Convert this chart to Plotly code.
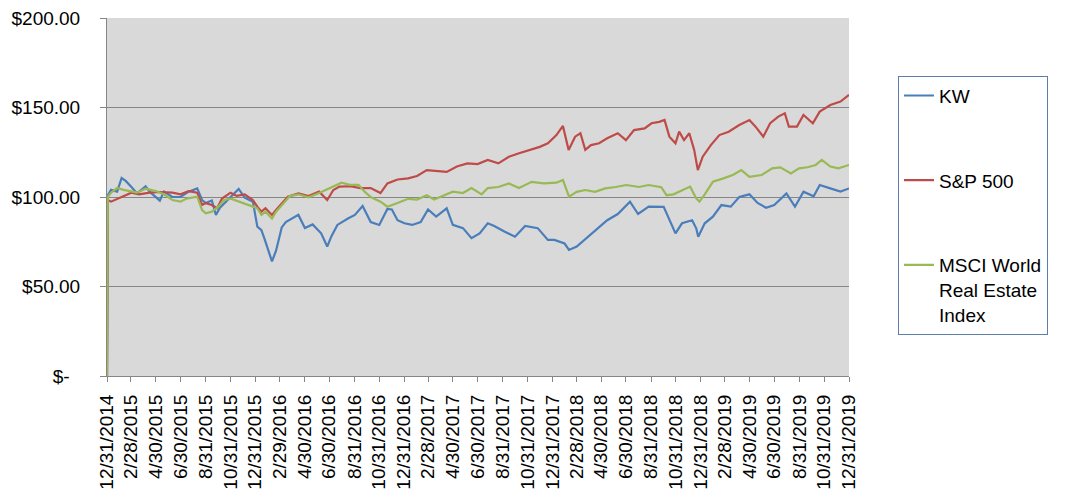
import plotly.graph_objects as go

# ---------------- data ----------------
kw_dates = ["2014-12-31","2015-01-02","2015-01-10","2015-01-25","2015-02-05","2015-02-15","2015-02-28","2015-03-15",
            "2015-04-05","2015-04-15","2015-05-10","2015-05-20","2015-06-10","2015-06-30","2015-07-20","2015-08-10",
            "2015-08-22","2015-08-31","2015-09-15","2015-09-25","2015-10-05","2015-10-31","2015-11-20","2015-12-05",
            "2015-12-25","2016-01-05","2016-01-15","2016-01-22","2016-02-01","2016-02-10","2016-02-20","2016-03-05",
            "2016-03-15","2016-03-31","2016-04-15","2016-05-01","2016-05-20","2016-06-10","2016-06-25","2016-07-05",
            "2016-07-20","2016-08-15","2016-09-01","2016-09-20","2016-10-10","2016-10-31","2016-11-20","2016-12-01",
            "2016-12-15","2017-01-01","2017-01-20","2017-02-10","2017-02-28","2017-03-20","2017-04-15","2017-04-30",
            "2017-05-25","2017-06-15","2017-07-05","2017-07-25","2017-08-10","2017-09-05","2017-09-30","2017-10-25",
            "2017-11-25","2017-12-20","2018-01-05","2018-01-30","2018-02-10","2018-03-01","2018-03-25","2018-04-20",
            "2018-05-15","2018-06-10","2018-07-10","2018-07-30","2018-08-25","2018-10-01","2018-10-15","2018-10-30",
            "2018-11-15","2018-12-10","2018-12-20","2018-12-25","2019-01-10","2019-01-30","2019-02-20","2019-03-15",
            "2019-04-05","2019-04-30","2019-05-20","2019-06-10","2019-06-30","2019-07-30","2019-08-20","2019-09-10",
            "2019-10-05","2019-10-20","2019-11-15","2019-12-10","2019-12-31"]
kw_values = [0,101,104,103,110.6,109,105.8,102,
             106,103,98,103,100,100,103,104.8,
             98.3,96.6,98,90,94,99.7,104.5,99.7,
             97.4,83.4,81.5,77,70,64,70,83,
             86,88,90,82.7,84.7,79.7,72.3,78,
             84.4,88,90,95,86,84.4,93.3,93,
             87,85.3,84.4,86,93,89,93.7,84.4,
             82.6,77,79.7,85.3,83.8,80.6,77.8,83.8,
             82.6,76,76,74,70.4,72.3,77,82.5,
             87,90.5,97.4,90.5,94.6,94.5,87,79.7,
             85.3,87,82.5,77.8,85.3,89,95.5,94.6,
             100,101.5,96.7,94,95.5,102,94.6,103,
             100.4,106.7,104.8,103,104.8]

sp_dates = ["2014-12-31","2015-01-02","2015-01-10","2015-01-25","2015-02-10","2015-03-01","2015-03-20","2015-04-15",
            "2015-05-10","2015-06-10","2015-06-30","2015-07-20","2015-08-10","2015-08-22","2015-08-31","2015-09-15",
            "2015-09-28","2015-10-10","2015-10-31","2015-11-15","2015-12-05","2015-12-25","2016-01-05","2016-01-15",
            "2016-01-25","2016-02-10","2016-02-20","2016-03-05","2016-03-20","2016-04-15","2016-05-10","2016-06-05",
            "2016-06-25","2016-07-10","2016-07-25","2016-08-20","2016-09-15","2016-10-10","2016-11-03","2016-11-20",
            "2016-12-15","2017-01-10","2017-02-01","2017-02-25","2017-03-20","2017-04-15","2017-05-10","2017-06-05",
            "2017-06-30","2017-07-25","2017-08-20","2017-09-15","2017-10-10","2017-11-05","2017-11-30","2017-12-20",
            "2018-01-10","2018-01-26","2018-02-05","2018-02-09","2018-02-25","2018-03-10","2018-03-22","2018-04-05",
            "2018-04-25","2018-05-15","2018-06-10","2018-06-30","2018-07-20","2018-08-15","2018-09-01","2018-09-20",
            "2018-10-03","2018-10-15","2018-10-30","2018-11-08","2018-11-20","2018-12-03","2018-12-15","2018-12-24",
            "2019-01-05","2019-01-25","2019-02-15","2019-03-10","2019-04-05","2019-04-30","2019-05-15","2019-06-03",
            "2019-06-20","2019-07-10","2019-07-26","2019-08-05","2019-08-25","2019-09-10","2019-10-03","2019-10-20",
            "2019-11-15","2019-12-10","2019-12-31"]
sp_values = [0,98.3,97.4,99,100.5,102.4,101.5,102.4,
             102.8,102.4,101.5,103.3,102.4,95.5,96.6,95.5,
             93.7,99.1,102.4,100.6,101.5,98.3,94.6,91.8,
             93.7,90,92.7,96.6,100.2,102,100.5,103,
             98.3,103.9,105.8,106,105,105,102.2,107.6,
             109.8,110.4,111.7,115,114.7,114,117,118.8,
             118.4,120.7,118.8,122.5,124.4,126.3,128,130,
             134.6,139.7,130,126.3,133.7,135.6,126.3,129,
             130,132.8,135.6,131.8,137.4,138.3,141.2,142,
             143,133.7,130,136.5,131.8,135.6,126.3,115,
             122.5,129,134.6,136.5,140.2,143,139.3,133.7,
             141.2,144.9,146.8,139.3,139.3,145.8,141.2,147.7,
             151.4,153.3,157]

msci_dates = ["2014-12-31","2015-01-02","2015-01-10","2015-01-25","2015-02-10","2015-03-01","2015-03-15","2015-04-05",
              "2015-04-30","2015-05-20","2015-06-10","2015-06-30","2015-07-15","2015-08-10","2015-08-22","2015-08-31",
              "2015-09-15","2015-10-01","2015-10-15","2015-11-01","2015-11-20","2015-12-15","2016-01-05","2016-01-15",
              "2016-01-25","2016-02-10","2016-02-20","2016-03-10","2016-03-25","2016-04-15","2016-05-10","2016-06-05",
              "2016-07-01","2016-07-30","2016-08-20","2016-09-10","2016-09-25","2016-10-10","2016-11-03","2016-11-20",
              "2016-12-15","2017-01-10","2017-02-01","2017-02-25","2017-03-15","2017-04-05","2017-04-30","2017-05-25",
              "2017-06-15","2017-07-10","2017-07-25","2017-08-20","2017-09-15","2017-10-10","2017-11-10","2017-12-10",
              "2018-01-10","2018-01-26","2018-02-05","2018-02-10","2018-03-01","2018-03-22","2018-04-15","2018-05-10",
              "2018-06-05","2018-07-01","2018-08-01","2018-08-25","2018-09-25","2018-10-08","2018-10-25","2018-11-15",
              "2018-12-05","2018-12-20","2018-12-28","2019-01-10","2019-01-30","2019-02-25","2019-03-20","2019-04-10",
              "2019-04-30","2019-05-30","2019-06-25","2019-07-15","2019-08-10","2019-08-30","2019-09-20","2019-10-10",
              "2019-10-25","2019-11-15","2019-12-05","2019-12-31"]
msci_values = [0,100,102.4,105,104,103.3,102.4,104.6,
               103.3,101.5,98.3,97.4,99.1,100.2,92.7,90.9,
               91.8,94.6,98.3,99.1,97.4,95.5,93.7,90,
               91.8,88,91.8,96.6,100.5,101.5,99.8,102.2,
               105,108,106.8,106.8,103,100,97.4,94.6,
               96.6,99,98.6,101,98.6,100.5,103,102.2,
               105,101.5,105,105.6,107.6,105,108.5,107.6,
               108,109.5,103.9,100.2,102.9,103.9,102.9,104.8,
               105.6,106.7,105.6,106.7,105.5,101,101.5,103.9,
               105.8,99.3,97.4,101.5,108.5,110.4,112.3,115,
               111.3,112.3,116,116.6,113.2,116,116.6,117.9,
               120.7,117,116,117.9]

tick_dates = ["2014-12-31","2015-02-28","2015-04-30","2015-06-30","2015-08-31","2015-10-31",
              "2015-12-31","2016-02-29","2016-04-30","2016-06-30","2016-08-31","2016-10-31",
              "2016-12-31","2017-02-28","2017-04-30","2017-06-30","2017-08-31","2017-10-31",
              "2017-12-31","2018-02-28","2018-04-30","2018-06-30","2018-08-31","2018-10-31",
              "2018-12-31","2019-02-28","2019-04-30","2019-06-30","2019-08-31","2019-10-31",
              "2019-12-31"]
tick_labels = [f"{int(d[5:7])}/{int(d[8:10])}/{d[0:4]}" for d in tick_dates]

y_tickvals = [0, 50, 100, 150, 200]
y_ticktext = ["$-  ", "$50.00", "$100.00", "$150.00", "$200.00"]

series_names = ["KW", "S&P 500", "MSCI World<br>Real Estate<br>Index"]
series_colors = ["#4A7EBB", "#BE4B48", "#98B954"]

# ---------------- figure ----------------
fig = go.Figure()
for name, xs, ys, col in zip(series_names,
                             [kw_dates, sp_dates, msci_dates],
                             [kw_values, sp_values, msci_values],
                             series_colors):
    fig.add_trace(go.Scatter(x=xs, y=ys, mode="lines", name=name,
                             legendgroup=name,
                             line=dict(color=col, width=2.2)))

font_family = "Liberation Sans, Arial, sans-serif"

fig.update_layout(
    width=1054, height=485,
    margin=dict(l=99, r=213, t=10, b=117, autoexpand=False),
    paper_bgcolor="white",
    plot_bgcolor="#D9D9D9",
    font=dict(family=font_family, size=19, color="black"),
    showlegend=True,
    legend=dict(
        x=1.066, y=0.839, xanchor="left", yanchor="top",
        bordercolor="#5B7FA8", borderwidth=1, bgcolor="white",
        font=dict(family=font_family, size=19, color="black"),
        tracegroupgap=57, valign="top", itemwidth=30,
    ),
    xaxis=dict(
        type="date",
        range=["2014-12-31", "2019-12-31"],
        tickmode="array", tickvals=tick_dates, ticktext=tick_labels,
        tickangle=-90,
        ticks="outside", ticklen=5, tickcolor="#868686",
        showline=True, linecolor="#868686", linewidth=1,
        showgrid=False, zeroline=False,
        automargin=False,
        ticklabeloverflow="allow",
        ticklabelstandoff=5,
        tickfont=dict(family=font_family, size=19, color="black"),
    ),
    yaxis=dict(
        range=[0, 200],
        tickmode="array", tickvals=y_tickvals, ticktext=y_ticktext,
        ticks="outside", ticklen=6, tickcolor="#868686",
        showline=True, linecolor="#868686", linewidth=1,
        showgrid=True, gridcolor="#868686", gridwidth=1,
        zeroline=False,
        automargin=False,
        ticklabeloverflow="allow",
        ticklabelstandoff=16,
        tickfont=dict(family=font_family, size=19, color="black"),
    ),
)

fig.write_html("out.html")
